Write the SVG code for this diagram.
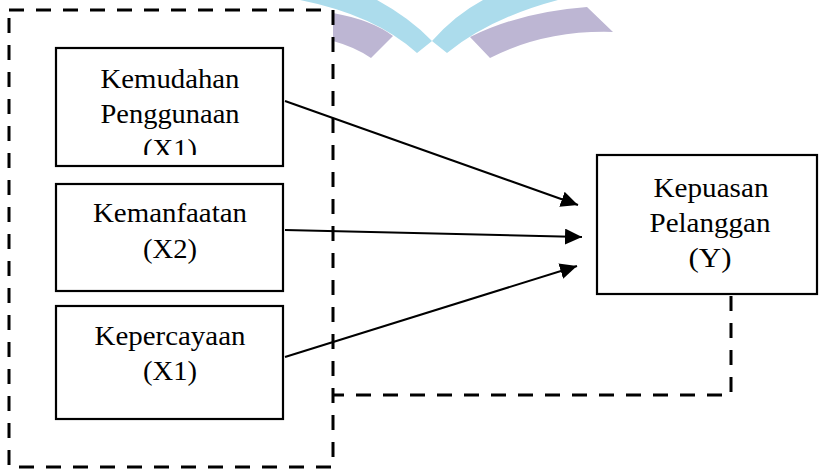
<svg xmlns="http://www.w3.org/2000/svg" width="819" height="469" viewBox="0 0 819 469">
  <style>
    .box { fill: #ffffff; stroke: #000000; stroke-width: 2.2; }
    .lbl { font-family: "Liberation Serif", "Times New Roman", serif; font-size: 28px; fill: #000000; text-anchor: middle; }
    .dash { fill: none; stroke: #000000; stroke-width: 3; stroke-dasharray: 15 12; }
    .arrow { fill: none; stroke: #000000; stroke-width: 2; marker-end: url(#ah); }
  </style>
  <defs>
    <marker id="ah" markerUnits="userSpaceOnUse" markerWidth="18" markerHeight="16" refX="17" refY="8" orient="auto">
      <path d="M0,0 L17,8 L0,16 Z" fill="#000000"/>
    </marker>
    <clipPath id="clip1">
      <rect x="56" y="48" width="228" height="107"/>
    </clipPath>
  </defs>
  <rect width="819" height="469" fill="#ffffff"/>

  <!-- watermark -->
  <g id="watermark">
    <path d="M300,0 L377,0 Q410,18 432,41 L417,53 Q375,15 300,0 Z" fill="#acdcec"/>
    <path d="M432,41 Q455,15 483,0 L558,0 Q490,18 447,53 Z" fill="#acdcec"/>
    <path d="M333,13 Q372,20 393,36 L371,58 Q355,47 333,41 Z" fill="#bdb6d3"/>
    <path d="M470,37 Q520,12 587,7 L613,32 Q545,30 490,58 Z" fill="#bdb6d3"/>
  </g>

  <!-- connectors -->
  <g id="connectors">
    <rect class="dash" x="9" y="10" width="324" height="457"/>
    <polyline class="dash" points="731,296 731,395 333,395"/>
    <line class="arrow" x1="285" y1="101" x2="578" y2="205"/>
    <line class="arrow" x1="285" y1="230" x2="582" y2="237"/>
    <line class="arrow" x1="285" y1="357" x2="577" y2="266"/>
  </g>

  <g id="x1">
    <rect class="box" x="56" y="48" width="227" height="118"/>
    <g clip-path="url(#clip1)">
      <text class="lbl" x="170" y="88" textLength="139" lengthAdjust="spacingAndGlyphs">Kemudahan</text>
      <text class="lbl" x="170" y="123" textLength="139" lengthAdjust="spacingAndGlyphs">Penggunaan</text>
      <text class="lbl" x="170" y="158" textLength="54" lengthAdjust="spacingAndGlyphs">(X1)</text>
    </g>
  </g>

  <g id="x2">
    <rect class="box" x="56" y="184" width="227" height="107"/>
    <text class="lbl" x="170" y="222" textLength="154" lengthAdjust="spacingAndGlyphs">Kemanfaatan</text>
    <text class="lbl" x="170" y="258" textLength="54" lengthAdjust="spacingAndGlyphs">(X2)</text>
  </g>

  <g id="x3">
    <rect class="box" x="56" y="306" width="227" height="113"/>
    <text class="lbl" x="170" y="345" textLength="151" lengthAdjust="spacingAndGlyphs">Kepercayaan</text>
    <text class="lbl" x="170" y="380" textLength="54" lengthAdjust="spacingAndGlyphs">(X1)</text>
  </g>

  <g id="y">
    <rect class="box" x="597" y="155" width="220" height="139"/>
    <text class="lbl" x="711" y="196.5" textLength="115" lengthAdjust="spacingAndGlyphs">Kepuasan</text>
    <text class="lbl" x="710" y="231.5" textLength="121" lengthAdjust="spacingAndGlyphs">Pelanggan</text>
    <text class="lbl" x="710" y="266.5" textLength="43" lengthAdjust="spacingAndGlyphs">(Y)</text>
  </g>
</svg>
